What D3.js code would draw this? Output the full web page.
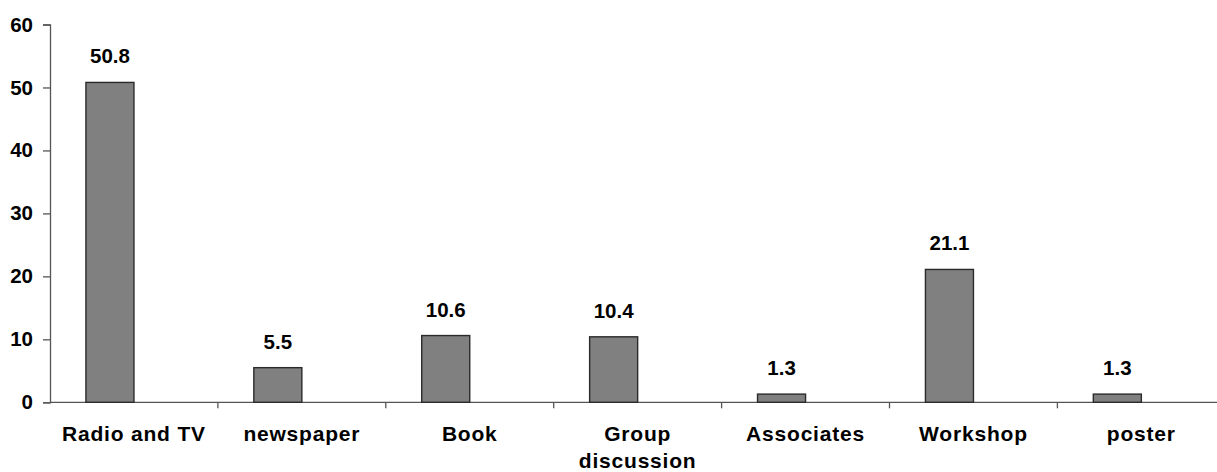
<!DOCTYPE html>
<html>
<head>
<meta charset="utf-8">
<script src="https://cdn.jsdelivr.net/npm/d3@7"></script>
<style>
  html, body { margin: 0; padding: 0; background: #fff; }
  svg { display: block; }
  text { font-family: Arial, "Liberation Sans", sans-serif; font-weight: bold; fill: #000; }
</style>
</head>
<body>
<svg id="chart" width="1217" height="472"></svg>
<script>
// Sources of information (percent of respondents)
const categories = ["Radio and TV", "newspaper", "Book", "Group\ndiscussion", "Associates", "Workshop", "poster"];
const values = [50.8, 5.5, 10.6, 10.4, 1.3, 21.1, 1.3];
const yTicks = [0, 10, 20, 30, 40, 50, 60];

const svg = d3.select("#chart");

const x0 = 50, bandW = 167.9;
const x = d3.scaleBand()
  .domain(categories)
  .range([x0, x0 + bandW * categories.length])
  .paddingInner(0).paddingOuter(0);

const y = d3.scaleLinear().domain([0, 60]).range([402.3, 24.5]);

// bars sit left of the band centre, as in a two-slot cluster
const barOffset = 0.214, barFrac = 0.286;

// y axis
const yAxis = d3.axisLeft(y).tickValues(yTicks).tickSize(7).tickPadding(10).tickFormat(d3.format("d"));
const gy = svg.append("g").attr("transform", `translate(${x0},0)`).call(yAxis);
gy.select(".domain").attr("stroke", "#555").attr("stroke-width", 1.3);
gy.selectAll(".tick line").attr("stroke", "#555").attr("stroke-width", 1.3);
gy.selectAll(".tick text").attr("font-size", 20.5).attr("font-family", "Arial, 'Liberation Sans', sans-serif")
  .attr("font-weight", "bold").attr("fill", "#000");

// x axis line and band ticks
const gx = svg.append("g");
gx.append("line")
  .attr("x1", x0).attr("x2", 1217)
  .attr("y1", y(0)).attr("y2", y(0))
  .attr("stroke", "#555").attr("stroke-width", 1.3);
gx.selectAll("line.band")
  .data(categories.slice(1))
  .join("line")
  .attr("class", "band")
  .attr("x1", d => x(d)).attr("x2", d => x(d))
  .attr("y1", y(0)).attr("y2", y(0) + 6)
  .attr("stroke", "#555").attr("stroke-width", 1.3);

// bars
svg.append("g").selectAll("rect")
  .data(values)
  .join("rect")
  .attr("x", (d, i) => x(categories[i]) + barOffset * bandW)
  .attr("width", barFrac * bandW)
  .attr("y", d => y(d))
  .attr("height", d => y(0) - y(d))
  .attr("fill", "#808080")
  .attr("stroke", "#2a2a2a")
  .attr("stroke-width", 1.4);

// value labels
svg.append("g").selectAll("text")
  .data(values)
  .join("text")
  .attr("x", (d, i) => x(categories[i]) + (barOffset + barFrac / 2) * bandW)
  .attr("y", d => y(d) - 19)
  .attr("text-anchor", "middle")
  .attr("font-size", 20.5)
  .text(d => d3.format(".1f")(d));

// category labels
const labels = svg.append("g").selectAll("text")
  .data(categories)
  .join("text")
  .attr("x", d => x(d) + bandW / 2)
  .attr("y", 440.7)
  .attr("text-anchor", "middle")
  .attr("font-size", 21)
  .attr("letter-spacing", 0.8);
labels.each(function(d) {
  const t = d3.select(this);
  const cx = x(d) + bandW / 2;
  d.split("\n").forEach((line, k) => {
    t.append("tspan").attr("x", cx).attr("dy", k === 0 ? 0 : 27).text(line);
  });
});
</script>
</body>
</html>
